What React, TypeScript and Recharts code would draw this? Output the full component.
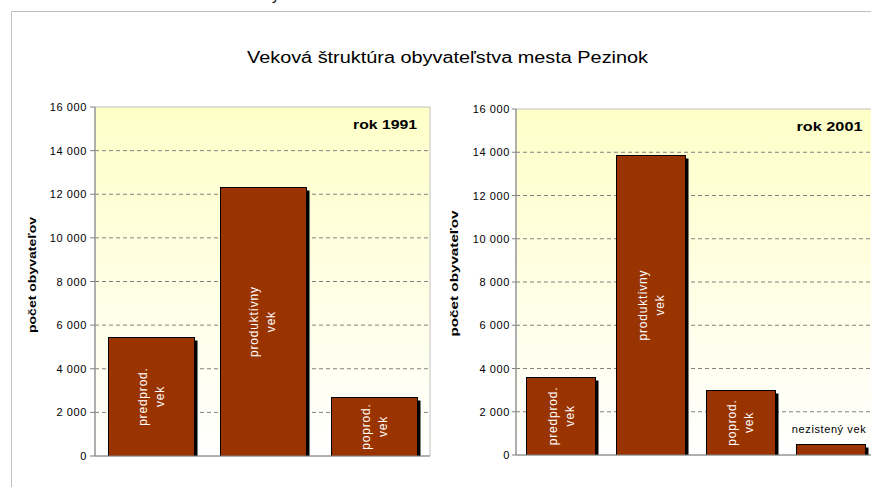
import React from 'react';
import { BarChart, Bar, XAxis, YAxis, CartesianGrid, ReferenceArea } from 'recharts';

const FONT = '"Liberation Sans", Arial, Helvetica, sans-serif';

const chartTitle = 'Veková štruktúra obyvateľstva mesta Pezinok';
const axisTitle = 'počet obyvateľov';
const panelTitle1991 = 'rok 1991';
const panelTitle2001 = 'rok 2001';

const categories1991 = ['predprod. vek', 'produktívny vek', 'poprod. vek'];
const values1991 = [5450, 12320, 2700];

const categories2001 = ['predprod. vek', 'produktívny vek', 'poprod. vek', 'nezistený vek'];
const values2001 = [3620, 13870, 3000, 510];

const yTicks = [0, 2000, 4000, 6000, 8000, 10000, 12000, 14000, 16000];
const gridValues = [2000, 4000, 6000, 8000, 10000, 12000, 14000];

const data1991 = categories1991.map((name, i) => ({ name, value: values1991[i] }));
const data2001 = categories2001.map((name, i) => ({ name, value: values2001[i] }));

const fmt = (v: number) => String(v).replace(/\B(?=(\d{3})+(?!\d))/g, ' ');

const makeTick = (spacing: number) => (p: any) => {
  const { x, y, payload } = p;
  return (
    <text x={x} y={y} dy={4} textAnchor="end" fontSize={11} fontFamily={FONT} fill="#000" letterSpacing={spacing}>
      {fmt(payload.value)}
    </text>
  );
};

const BarShape = (props: any) => {
  const { x, y, width, height } = props;
  const name: string = (props.payload && props.payload.name) || props.name || '';
  if (!(height > 0)) return null;
  const x0 = Math.round(x) + 0.5;
  const y0 = Math.round(y) + 0.5;
  const w = Math.round(width);
  const h = Math.round(y + height) - Math.round(y);
  const cx = x + width / 2;
  const cy = y + height / 2;
  let label: React.ReactNode = null;
  if (height < 30) {
    label = (
      <text x={cx - 1} y={y - 11} textAnchor="middle" fontSize={11} fontFamily={FONT} fill="#000" letterSpacing={0.6}>
        {name}
      </text>
    );
  } else {
    const i = name.lastIndexOf(' ');
    const l1 = name.slice(0, i);
    const l2 = name.slice(i + 1);
    label = (
      <text transform={`rotate(-90 ${cx} ${cy})`} textAnchor="middle" fontSize={12} fontFamily={FONT} fill="#fff" letterSpacing={0.8}>
        <tspan x={cx} y={cy - 4}>{l1}</tspan>
        <tspan x={cx} y={cy + 13}>{l2}</tspan>
      </text>
    );
  }
  return (
    <g>
      <rect x={x0 + 3} y={y0 + 3} width={w} height={Math.max(0, h - 3)} fill="#000" />
      <rect x={x0} y={y0} width={w} height={h} fill="#993300" stroke="#000" strokeWidth={1} />
      {label}
    </g>
  );
};

const Panel = ({ data, id, margin, tickSize, tickMargin }: any) => (
  <BarChart width={440} height={487} data={data} margin={margin} barCategoryGap="11.5%">
    <defs>
      <linearGradient id={id} x1="0" y1="0" x2="0" y2="1">
        <stop offset="0%" stopColor="#FFFFC8" />
        <stop offset="100%" stopColor="#FFFFFF" />
      </linearGradient>
    </defs>
    <CartesianGrid
      vertical={false}
      horizontalValues={gridValues}
      stroke="#808080"
      strokeDasharray="4 3"
      fill={`url(#${id})`}
      fillOpacity={1}
    />
    <ReferenceArea y1={0} y2={16000} fill="none" stroke="#c0c0c0" strokeWidth={1} ifOverflow="visible" />
    <XAxis dataKey="name" tick={false} tickLine={false} axisLine={{ stroke: '#808080' }} height={1} />
    <YAxis
      domain={[0, 16000]}
      ticks={yTicks}
      interval={0}
      width={1}
      tickSize={tickSize}
      tickMargin={tickMargin}
      axisLine={{ stroke: '#808080' }}
      tickLine={{ stroke: '#808080' }}
      tick={makeTick(0.6)}
      allowDataOverflow
    />
    <Bar dataKey="value" isAnimationActive={false} shape={BarShape} />
  </BarChart>
);

export default function App() {
  return (
    <div style={{ position: 'fixed', left: 0, top: 0, width: 871, height: 487, overflow: 'hidden', background: '#fff' }}>
      <div style={{ position: 'absolute', left: 0, top: 0, width: 440, height: 487 }}>
        <Panel data={data1991} id="bg1991" margin={{ top: 107, left: 94, right: 10, bottom: 30 }} tickSize={5} tickMargin={3} />
      </div>
      <div style={{ position: 'absolute', left: 440, top: 0, width: 440, height: 487 }}>
        <Panel data={data2001} id="bg2001" margin={{ top: 109, left: 75, right: 5, bottom: 31 }} tickSize={4} tickMargin={2} />
      </div>
      <svg width={871} height={487} style={{ position: 'absolute', left: 0, top: 0, pointerEvents: 'none' }}>
        <line x1={11.5} y1={11.5} x2={871} y2={11.5} stroke="#c0c0c0" />
        <line x1={11.5} y1={11.5} x2={11.5} y2={487} stroke="#c0c0c0" />
        <text x={272} y={0} fontSize={15} fontFamily={FONT} fill="#000">y</text>
        <text x={447.5} y={63} textAnchor="middle" fontSize={16} fontFamily={FONT} fill="#000" textLength={401} lengthAdjust="spacingAndGlyphs">
          {chartTitle}
        </text>
        <text x={417} y={129} textAnchor="end" fontSize={12} fontWeight="bold" fontFamily={FONT} fill="#000" textLength={64} lengthAdjust="spacingAndGlyphs">
          {panelTitle1991}
        </text>
        <text x={862.5} y={130.5} textAnchor="end" fontSize={12} fontWeight="bold" fontFamily={FONT} fill="#000" textLength={66} lengthAdjust="spacingAndGlyphs">
          {panelTitle2001}
        </text>
        <text transform="rotate(-90 36 275)" x={36} y={275} textAnchor="middle" fontSize={11} fontWeight="bold" fontFamily={FONT} fill="#000" textLength={116} lengthAdjust="spacingAndGlyphs">
          {axisTitle}
        </text>
        <text transform="rotate(-90 457.5 273.5)" x={457.5} y={273.5} textAnchor="middle" fontSize={11} fontWeight="bold" fontFamily={FONT} fill="#000" textLength={126} lengthAdjust="spacingAndGlyphs">
          {axisTitle}
        </text>
      </svg>
    </div>
  );
}
